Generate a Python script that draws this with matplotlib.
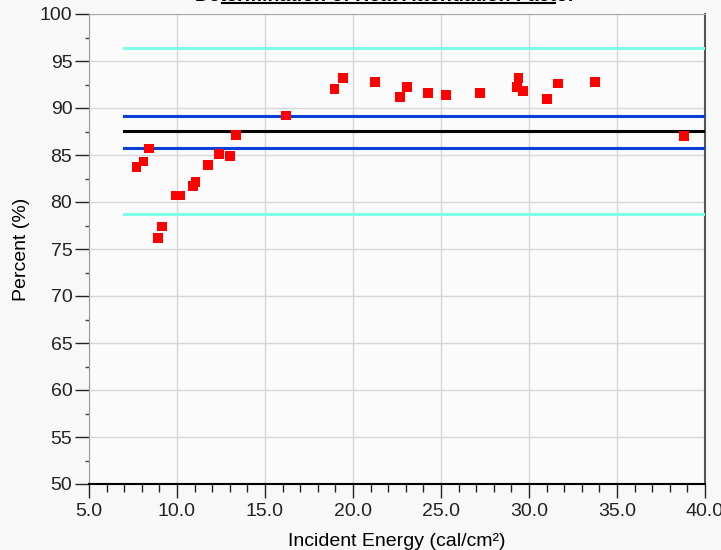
import matplotlib.pyplot as plt
from matplotlib.lines import Line2D
from matplotlib.ticker import MultipleLocator, FormatStrFormatter

plt.rcParams['font.family'] = ['Liberation Sans', 'DejaVu Sans']

# measured points
energy = [7.7, 8.1, 8.4, 8.9, 9.15, 9.95, 10.2, 10.9, 11.05, 11.75, 12.4, 13.0, 13.35,
          16.2, 18.95, 19.45, 21.25, 22.65, 23.05, 24.25, 25.3, 27.2, 29.3, 29.4,
          29.65, 31.0, 31.65, 33.75, 38.8]
percent = [83.7, 84.3, 85.7, 76.2, 77.4, 80.7, 80.7, 81.7, 82.1, 83.9, 85.1, 84.9, 87.1,
           89.2, 92.0, 93.2, 92.8, 91.2, 92.2, 91.6, 91.4, 91.6, 92.2, 93.2,
           91.8, 91.0, 92.6, 92.8, 87.0]

# reference lines: mean, +/- 1 sigma, +/- 3 sigma
line_start = 7.0
line_end = 40.0
mean_val = 87.55
sigma1 = [85.75, 89.15]
sigma3 = [78.75, 96.35]

title = "Determination of Heat Attenuation Factor"

fig = plt.figure(figsize=(7.21, 5.5), dpi=100, facecolor='#f8f8f8')
ax = fig.add_axes([89 / 721, 1 - 484 / 550, (705 - 89) / 721, (484 - 14) / 550])
ax.set_facecolor('#fbfbfb')

# lines
for v in sigma3:
    ax.plot([line_start, line_end], [v, v], color='#80ffe8', lw=2.2, zorder=3)
for v in sigma1:
    ax.plot([line_start, line_end], [v, v], color='#0a3fd8', lw=2.2, zorder=3)
ax.plot([line_start, line_end], [mean_val, mean_val], color='black', lw=2.2, zorder=3)

# points
ax.scatter(energy, percent, marker='s', s=50, color='#ff0000', edgecolors='none', zorder=4)

ax.set_xlim(5, 40)
ax.set_ylim(50, 100)
ax.xaxis.set_major_locator(MultipleLocator(5))
ax.xaxis.set_minor_locator(MultipleLocator(1))
ax.yaxis.set_major_locator(MultipleLocator(5))
ax.yaxis.set_minor_locator(MultipleLocator(2.5))
ax.xaxis.set_major_formatter(FormatStrFormatter('%.1f'))
ax.grid(True, which='major', color='#d6d6d6', lw=1)
ax.set_axisbelow(True)

ax.tick_params(axis='both', which='major', labelsize=14, length=10, width=1, colors='#222222')
ax.tick_params(axis='y', which='major', pad=2)
ax.tick_params(axis='x', which='major', pad=4)
ax.tick_params(axis='x', which='minor', length=6, width=1, colors='#222222')
ax.tick_params(axis='y', which='minor', length=3, width=1, colors='#444444')

ax.spines['left'].set_color('#999999')
ax.spines['top'].set_color('#aaaaaa')
ax.spines['right'].set_color('#555555')
ax.spines['bottom'].set_color('black')
ax.spines['bottom'].set_linewidth(1.5)
ax.spines['right'].set_linewidth(1.5)

ax.set_xlabel('Incident Energy (cal/cm²)', fontsize=14, labelpad=9)
ax.set_ylabel('Percent (%)', fontsize=14, labelpad=7)

# title is cut off by the top edge in the original
fig.text(0.535, 1 - 1 / 550, title, ha='center', va='baseline', fontsize=14, fontweight='bold')
fig.add_artist(Line2D([222 / 721, 555 / 721], [1 - 3 / 550, 1 - 3 / 550],
                      transform=fig.transFigure, color='black', lw=1.5))

plt.savefig('out.png', dpi=100, facecolor=fig.get_facecolor())
